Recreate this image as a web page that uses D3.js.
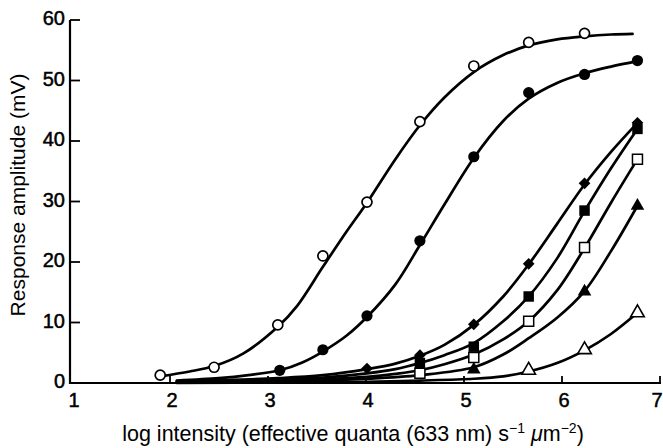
<!DOCTYPE html>
<html><head><meta charset="utf-8">
<script src="https://cdn.jsdelivr.net/npm/d3@7"></script>
<style>
html,body{margin:0;padding:0;background:#fff;}
svg{display:block;}
text{font-family:"Liberation Sans",Arial,sans-serif;fill:#000;}
</style></head>
<body>
<svg id="chart" width="663" height="448"></svg>
<script>
// ---------- data ----------
const xTicks = [1, 2, 3, 4, 5, 6, 7];
const yTicks = [0, 10, 20, 30, 40, 50, 60];
const xTitle = "log intensity (effective quanta (633 nm) s";
const yTitle = "Response amplitude (mV)";

// measured points (log intensity, mV)
const openCircleX   = [1.9, 2.45, 3.1, 3.56, 4.01, 4.55, 5.1, 5.66, 6.23];
const openCircleY   = [1.3, 2.6, 9.6, 21.0, 29.9, 43.2, 52.4, 56.3, 57.8];
const filledCircleX = [3.12, 3.56, 4.01, 4.55, 5.1, 5.66, 6.23, 6.77];
const filledCircleY = [2.1, 5.5, 11.1, 23.5, 37.4, 48.0, 51.0, 53.3];
const diamondX      = [4.01, 4.55, 5.1, 5.66, 6.23, 6.77];
const diamondY      = [2.4, 4.6, 9.7, 19.7, 33.0, 43.0];
const filledSquareX = [4.55, 5.1, 5.66, 6.23, 6.77];
const filledSquareY = [3.3, 6.0, 14.3, 28.5, 42.0];
const openSquareX   = [4.55, 5.1, 5.66, 6.23, 6.77];
const openSquareY   = [1.6, 4.2, 10.2, 22.4, 37.0];
const filledTriX    = [5.1, 6.23, 6.77];
const filledTriY    = [2.2, 15.1, 29.3];
const openTriX      = [5.66, 6.23, 6.77];
const openTriY      = [2.1, 5.5, 11.6];

// fitted curves ([log intensity, mV])
const openCircleCurve = [[1.9,1.1],[2.2,1.9],[2.45,2.8],[2.75,4.9],[3.1,9.3],[3.3,12.8],[3.56,19.2],[3.8,25.0],[4.01,29.8],[4.3,37.0],[4.55,42.6],[4.8,47.2],[5.1,51.4],[5.4,54.2],[5.66,55.8],[5.95,56.8],[6.23,57.3],[6.5,57.6],[6.72,57.7]];
const filledCircleCurve = [[2.07,0.4],[2.5,0.8],[2.8,1.3],[3.12,2.1],[3.35,3.4],[3.56,5.2],[3.8,7.8],[4.01,10.9],[4.3,16.3],[4.55,22.8],[4.8,29.5],[5.1,37.2],[5.4,43.3],[5.66,47.0],[5.95,49.6],[6.23,51.2],[6.5,52.3],[6.77,53.2]];
const diamondCurve = [[2.07,0.3],[2.6,0.5],[3.1,0.8],[3.56,1.3],[4.01,2.3],[4.3,3.2],[4.55,4.5],[4.8,6.3],[5.1,9.6],[5.4,14.3],[5.66,19.6],[5.95,26.3],[6.23,32.8],[6.5,38.2],[6.77,43.0]];
const filledSquareCurve = [[2.07,0.2],[2.6,0.4],[3.1,0.6],[3.56,0.9],[4.01,1.6],[4.3,2.3],[4.55,3.3],[4.8,4.6],[5.1,6.6],[5.4,10.2],[5.66,14.3],[5.95,20.6],[6.23,28.4],[6.5,35.5],[6.77,42.0]];
const openSquareCurve = [[2.07,0.1],[2.6,0.3],[3.1,0.4],[3.56,0.6],[4.01,1.0],[4.3,1.5],[4.55,2.1],[4.8,3.1],[5.1,4.7],[5.4,7.2],[5.66,10.2],[5.95,15.3],[6.23,22.3],[6.5,29.8],[6.77,37.0]];
const filledTriCurve = [[2.07,0.1],[3.1,0.2],[4.01,0.7],[4.55,1.3],[5.1,2.6],[5.4,4.7],[5.66,7.4],[5.95,10.8],[6.23,15.2],[6.5,21.8],[6.77,29.3]];
const openTriCurve = [[2.07,0.0],[3.1,0.1],[4.01,0.2],[4.55,0.4],[5.1,0.7],[5.4,1.1],[5.66,1.9],[5.95,3.3],[6.23,5.4],[6.5,8.1],[6.77,11.6]];

// ---------- drawing ----------
const svg = d3.select("#chart");
const x = d3.scaleLinear().domain([1, 7]).range([72, 660]);
const y = d3.scaleLinear().domain([0, 60]).range([383, 20]);

// curves
const line = d3.line().x(d => x(d[0])).y(d => y(d[1])).curve(d3.curveCatmullRom.alpha(0.5));
const curves = [openCircleCurve, filledCircleCurve, diamondCurve, filledSquareCurve, openSquareCurve, filledTriCurve, openTriCurve];
svg.append("g").selectAll("path").data(curves).join("path")
  .attr("d", line).attr("fill", "none").attr("stroke", "#000")
  .attr("stroke-width", 2.7).attr("stroke-linejoin", "round").attr("stroke-linecap", "round");

// axes
const axisG = svg.append("g");
axisG.append("line").attr("x1", 70).attr("x2", 70).attr("y1", y(60)).attr("y2", y(0)+1)
  .attr("stroke", "#000").attr("stroke-width", 2.2);
axisG.append("line").attr("x1", 69).attr("x2", x(7)+1).attr("y1", y(0)).attr("y2", y(0))
  .attr("stroke", "#000").attr("stroke-width", 2.2);
// y ticks (inward)
axisG.selectAll(".yt").data(yTicks.filter(d => d > 0)).join("line")
  .attr("x1", 70).attr("x2", 80).attr("y1", d => y(d)).attr("y2", d => y(d))
  .attr("stroke", "#000").attr("stroke-width", 1.8);
axisG.selectAll(".yl").data(yTicks).join("text")
  .attr("x", 65).attr("y", d => y(d) + 5).attr("text-anchor", "end")
  .attr("font-size", 20).attr("stroke", "#000").attr("stroke-width", 0.5).text(d => d);
// x ticks (inward, up)
axisG.selectAll(".xt").data(xTicks.filter(d => d > 1)).join("line")
  .attr("x1", d => x(d)).attr("x2", d => x(d)).attr("y1", y(0)).attr("y2", y(0) - 7)
  .attr("stroke", "#000").attr("stroke-width", 1.8);
axisG.selectAll(".xl").data(xTicks).join("text")
  .attr("x", d => Math.min(x(d) + 2, 657)).attr("y", 407).attr("text-anchor", "middle")
  .attr("font-size", 20).attr("stroke", "#000").attr("stroke-width", 0.5).text(d => d);

// axis titles
const xt = svg.append("text").attr("x", 353).attr("y", 441).attr("text-anchor", "middle").attr("font-size", 21.5);
xt.append("tspan").text(xTitle);
xt.append("tspan").attr("font-size", 14).attr("dy", -8).text("\u22121");
xt.append("tspan").attr("dy", 8).text(" ");
xt.append("tspan").attr("font-style", "italic").text("\u03bc");
xt.append("tspan").text("m");
xt.append("tspan").attr("font-size", 14).attr("dy", -8).text("\u22122");
xt.append("tspan").attr("dy", 8).text(")");

svg.append("text").attr("transform", "translate(25,195) rotate(-90)")
  .attr("text-anchor", "middle").attr("font-size", 21).text(yTitle);

// markers
const mk = svg.append("g");
function pts(xs, ys) { return xs.map((v, i) => [v, ys[i]]); }
mk.selectAll(".oc").data(pts(openCircleX, openCircleY)).join("circle")
  .attr("cx", d => x(d[0])).attr("cy", d => y(d[1])).attr("r", 5)
  .attr("fill", "#fff").attr("stroke", "#000").attr("stroke-width", 1.7);
mk.selectAll(".fc").data(pts(filledCircleX, filledCircleY)).join("circle")
  .attr("cx", d => x(d[0])).attr("cy", d => y(d[1])).attr("r", 5.6).attr("fill", "#000");
const sym = (type, size) => d3.symbol().type(type).size(size)();
mk.selectAll(".dm").data(pts(diamondX, diamondY)).join("path")
  .attr("transform", d => `translate(${x(d[0])},${y(d[1])}) rotate(45)`)
  .attr("d", sym(d3.symbolSquare, 68)).attr("fill", "#000");
mk.selectAll(".fs").data(pts(filledSquareX, filledSquareY)).join("path")
  .attr("transform", d => `translate(${x(d[0])},${y(d[1])})`)
  .attr("d", sym(d3.symbolSquare, 110)).attr("fill", "#000");
mk.selectAll(".os").data(pts(openSquareX, openSquareY)).join("path")
  .attr("transform", d => `translate(${x(d[0])},${y(d[1])})`)
  .attr("d", sym(d3.symbolSquare, 100)).attr("fill", "#fff").attr("stroke", "#000").attr("stroke-width", 1.5);
mk.selectAll(".ft").data(pts(filledTriX, filledTriY)).join("path")
  .attr("transform", d => `translate(${x(d[0])},${y(d[1])})`)
  .attr("d", sym(d3.symbolTriangle, 80)).attr("fill", "#000");
mk.selectAll(".ot").data(pts(openTriX, openTriY)).join("path")
  .attr("transform", d => `translate(${x(d[0])},${y(d[1])})`)
  .attr("d", sym(d3.symbolTriangle, 80)).attr("fill", "#fff").attr("stroke", "#000").attr("stroke-width", 1.6);
</script>
</body></html>
